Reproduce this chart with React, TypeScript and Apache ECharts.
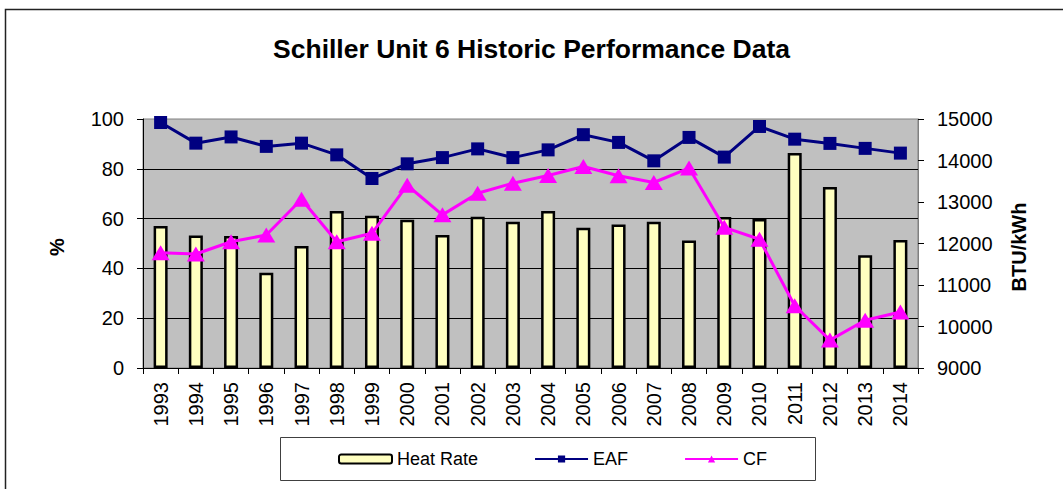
import React, { useEffect, useRef } from "react";
import * as echarts from "echarts";

const years = ["1993", "1994", "1995", "1996", "1997", "1998", "1999", "2000", "2001", "2002", "2003", "2004", "2005", "2006", "2007", "2008", "2009", "2010", "2011", "2012", "2013", "2014"];
const heatRate = [12420, 12190, 12180, 11295, 11940, 12785, 12670, 12575, 12205, 12645, 12525, 12785, 12380, 12455, 12525, 12070, 12640, 12590, 14180, 13360, 11715, 12085];
const eaf = [98.6, 90.3, 92.8, 89.0, 90.3, 85.6, 76.1, 82.0, 84.5, 88.0, 84.5, 87.6, 93.7, 90.6, 83.2, 92.6, 84.7, 97.0, 91.9, 90.2, 88.2, 86.3];
const cf = [46.3, 45.8, 50.7, 53.4, 67.8, 50.7, 54.1, 73.4, 61.5, 70.2, 74.2, 77.3, 80.9, 77.2, 74.5, 80.3, 56.5, 51.7, 25.0, 11.2, 19.2, 22.5];

const FONT = "'Liberation Sans', Arial, sans-serif";

export default function App() {
  const ref = useRef<HTMLDivElement>(null);
  useEffect(() => {
    document.body.style.margin = "0";
    const chart = echarts.init(ref.current!, null, { renderer: "svg" });
    chart.setOption({
      animation: false,
      textStyle: { fontFamily: FONT, color: "#000" },
      title: {
        text: "Schiller Unit 6 Historic Performance Data",
        left: "center",
        top: 30,
        textStyle: { fontFamily: FONT, fontSize: 26.5, fontWeight: "bold", color: "#000" },
      },
      grid: {
        left: 143,
        right: 145,
        top: 119,
        bottom: 121,
        show: true,
        backgroundColor: "#C0C0C0",
        borderColor: "#808080",
        borderWidth: 1,
      },
      legend: {
        left: 338,
        top: 450,
        padding: 0,
        itemWidth: 53,
        itemHeight: 9,
        itemGap: 56,
        textStyle: { fontFamily: FONT, fontSize: 18, color: "#000" },
        data: ["Heat Rate", "EAF", "CF"],
      },
      xAxis: {
        type: "category",
        data: years,
        boundaryGap: true,
        axisLine: { lineStyle: { color: "#000", width: 1 } },
        axisTick: { show: true, length: 6, lineStyle: { color: "#000" } },
        axisLabel: { rotate: 90, margin: 14, fontSize: 20, color: "#000", fontFamily: FONT, interval: 0 },
      },
      yAxis: [
        {
          type: "value",
          min: 0,
          max: 100,
          interval: 20,
          axisLine: { show: true, lineStyle: { color: "#000" } },
          axisTick: { show: true, length: 6, lineStyle: { color: "#000" } },
          axisLabel: { margin: 19, fontSize: 20, color: "#000", fontFamily: FONT },
          splitLine: { show: true, showMaxLine: false, lineStyle: { color: "#000", width: 1 } },
        },
        {
          type: "value",
          min: 9000,
          max: 15000,
          interval: 1000,
          startValue: 9000,
          position: "right",
          axisLine: { show: true, lineStyle: { color: "#808080" } },
          axisTick: { show: true, length: 6, lineStyle: { color: "#000" } },
          axisLabel: { margin: 19, fontSize: 20, color: "#000", fontFamily: FONT, formatter: (v: number) => String(v) },
          splitLine: { show: false },
        },
      ],
      series: [
        {
          name: "Heat Rate",
          type: "bar",
          yAxisIndex: 1,
          data: heatRate,
          barWidth: 14,
          itemStyle: { color: "#FFFFC0", borderColor: "#000", borderWidth: 2.5 },
        },
        {
          name: "EAF",
          type: "line",
          yAxisIndex: 0,
          data: eaf,
          symbol: "rect",
          symbolSize: 13,
          lineStyle: { color: "#000080", width: 3 },
          itemStyle: { color: "#000080" },
        },
        {
          name: "CF",
          type: "line",
          yAxisIndex: 0,
          data: cf,
          symbol: "triangle",
          symbolSize: [18, 15],
          lineStyle: { color: "#FF00FF", width: 3 },
          itemStyle: { color: "#FF00FF" },
        },
      ],
      graphic: [
        {
          type: "rect",
          silent: true,
          shape: { x: 5.5, y: 9.5, width: 1200, height: 700 },
          style: { fill: "none", stroke: "#222", lineWidth: 1.5 },
        },
        {
          type: "rect",
          silent: true,
          shape: { x: 280.5, y: 437.5, width: 535, height: 43 },
          style: { fill: "none", stroke: "#404040", lineWidth: 1 },
        },
        {
          type: "text",
          x: 57,
          y: 247,
          rotation: Math.PI / 2,
          style: { text: "%", font: "bold 20px " + FONT, fill: "#000", align: "center", verticalAlign: "middle" },
        },
        {
          type: "text",
          x: 1019,
          y: 247,
          rotation: Math.PI / 2,
          style: { text: "BTU/kWh", font: "bold 20px " + FONT, fill: "#000", align: "center", verticalAlign: "middle" },
        },
      ],
    });
    return () => chart.dispose();
  }, []);
  return <div ref={ref} style={{ width: 1063, height: 489 }} />;
}
